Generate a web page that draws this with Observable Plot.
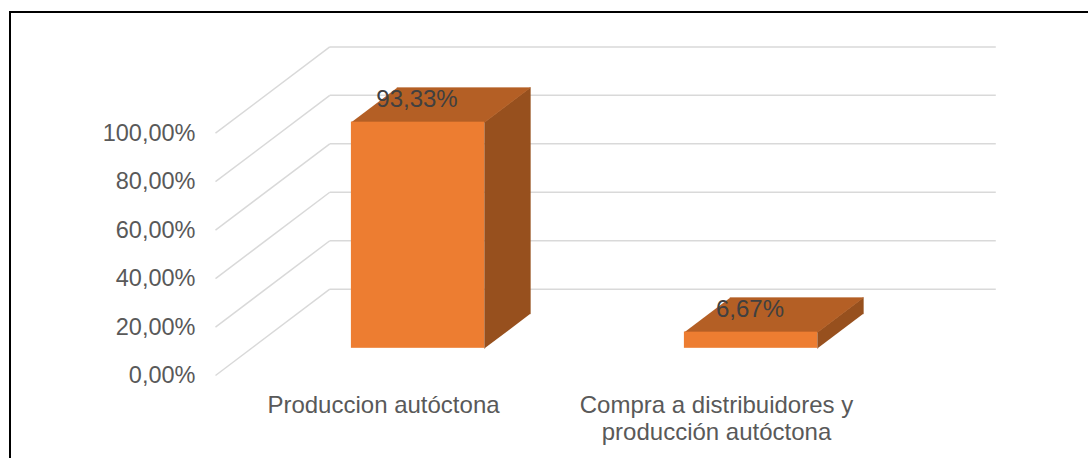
<!DOCTYPE html>
<html>
<head>
<meta charset="utf-8">
<script src="https://cdn.jsdelivr.net/npm/d3@7"></script>
<script src="https://cdn.jsdelivr.net/npm/@observablehq/plot@0.6"></script>
<style>
  html, body { margin: 0; padding: 0; background: #fff; }
  #wrap { position: relative; width: 1088px; height: 458px; overflow: hidden; }
  #frame { position: absolute; left: 9px; top: 11px; width: 1200px; height: 600px;
           border-left: 2px solid #000; border-top: 2px solid #000; pointer-events: none; }
</style>
</head>
<body>
<div id="wrap"><div id="frame"></div></div>
<script>
// ---- data ----
const categories = ["Produccion autóctona", "Compra a distribuidores y\nproducción autóctona"];
const values = [0.9333, 0.0667];
const valueLabels = ["93,33%", "6,67%"];
const yTicks = [0, 0.2, 0.4, 0.6, 0.8, 1.0];
const yTickLabels = ["0,00%", "20,00%", "40,00%", "60,00%", "80,00%", "100,00%"];

// ---- 3D projection settings (in scale units) ----
const DX = 0.3432;   // full depth shift along x
const DY = 0.3562;   // full depth shift along y
const FRONT = 0.315; // bar front depth fraction
const DEPTH = 0.4;   // bar depth fraction
const INSET = 0.3;   // bar inset inside category band
const BW = 0.4;      // bar width within band

const bars = values.map((v, i) => ({i, v, label: valueLabels[i]}));

const faces = [];
bars.forEach(({i, v}) => {
  const x1 = i + INSET + FRONT * DX, x2 = x1 + BW;
  const yb = FRONT * DY, yt = v + FRONT * DY;
  const ox = DEPTH * DX, oy = DEPTH * DY;
  faces.push(
    {id: "side" + i, face: "side", x: x2, y: yb},
    {id: "side" + i, face: "side", x: x2, y: yt},
    {id: "side" + i, face: "side", x: x2 + ox, y: yt + oy},
    {id: "side" + i, face: "side", x: x2 + ox, y: yb + oy},
    {id: "top" + i, face: "top", x: x1, y: yt},
    {id: "top" + i, face: "top", x: x2, y: yt},
    {id: "top" + i, face: "top", x: x2 + ox, y: yt + oy},
    {id: "top" + i, face: "top", x: x1 + ox, y: yt + oy}
  );
});
const sideFaces = faces.filter(d => d.face === "side");
const topFaces = faces.filter(d => d.face === "top");

const GRID = "#d9d9d9";
const chart = Plot.plot({
  width: 1088,
  height: 458,
  marginLeft: 215,
  marginRight: 207,
  marginTop: 132.7,
  marginBottom: 83,
  style: {fontFamily: "'Liberation Sans', Arial, sans-serif", color: "#595959", background: "transparent", overflow: "visible"},
  x: {type: "linear", domain: [0, 2], axis: null},
  y: {type: "linear", domain: [0, 1], axis: null},
  marks: [
    // back wall gridlines
    Plot.link(yTicks, {x1: () => DX, x2: () => 2 + DX, y1: d => d + DY, y2: d => d + DY, stroke: GRID, strokeWidth: 1.5}),
    // side wall diagonals
    Plot.link(yTicks, {x1: () => 0, x2: () => DX, y1: d => d, y2: d => d + DY, stroke: GRID, strokeWidth: 1.5}),
    // bar side faces
    Plot.line(sideFaces, {x: "x", y: "y", z: "id", fill: "#97501e", stroke: "#97501e", strokeWidth: 0.6}),
    // bar top faces
    Plot.line(topFaces, {x: "x", y: "y", z: "id", fill: "#b45f25", stroke: "#b45f25", strokeWidth: 0.6}),
    // bar front faces
    Plot.rect(bars, {
      x1: d => d.i + INSET + FRONT * DX, x2: d => d.i + INSET + BW + FRONT * DX,
      y1: () => FRONT * DY, y2: d => d.v + FRONT * DY,
      fill: "#ed7d31"
    }),
    // value labels
    Plot.text(bars, {
      x: d => d.i + 0.5 + FRONT * DX, y: d => d.v + FRONT * DY, text: "label",
      dy: -23, dx: -1, fontSize: 24, fill: "#404040"
    }),
    // y axis
    Plot.axisY(yTicks, {label: null, tickSize: 0, tickPadding: 20, tickFormat: (d, i) => yTickLabels[i], fontSize: 23.5}),
    // category labels
    Plot.text(categories, {
      x: (d, i) => i + 0.5, y: () => 0, text: d => d,
      lineAnchor: "top", dy: 19, dx: 1.5, lineHeight: 1.11, fontSize: 24, fill: "#595959"
    })
  ]
});
document.getElementById("wrap").insertBefore(chart, document.getElementById("frame"));
chart.style.position = "absolute";
chart.style.left = "0px";
chart.style.top = "0px";
</script>
</body>
</html>
